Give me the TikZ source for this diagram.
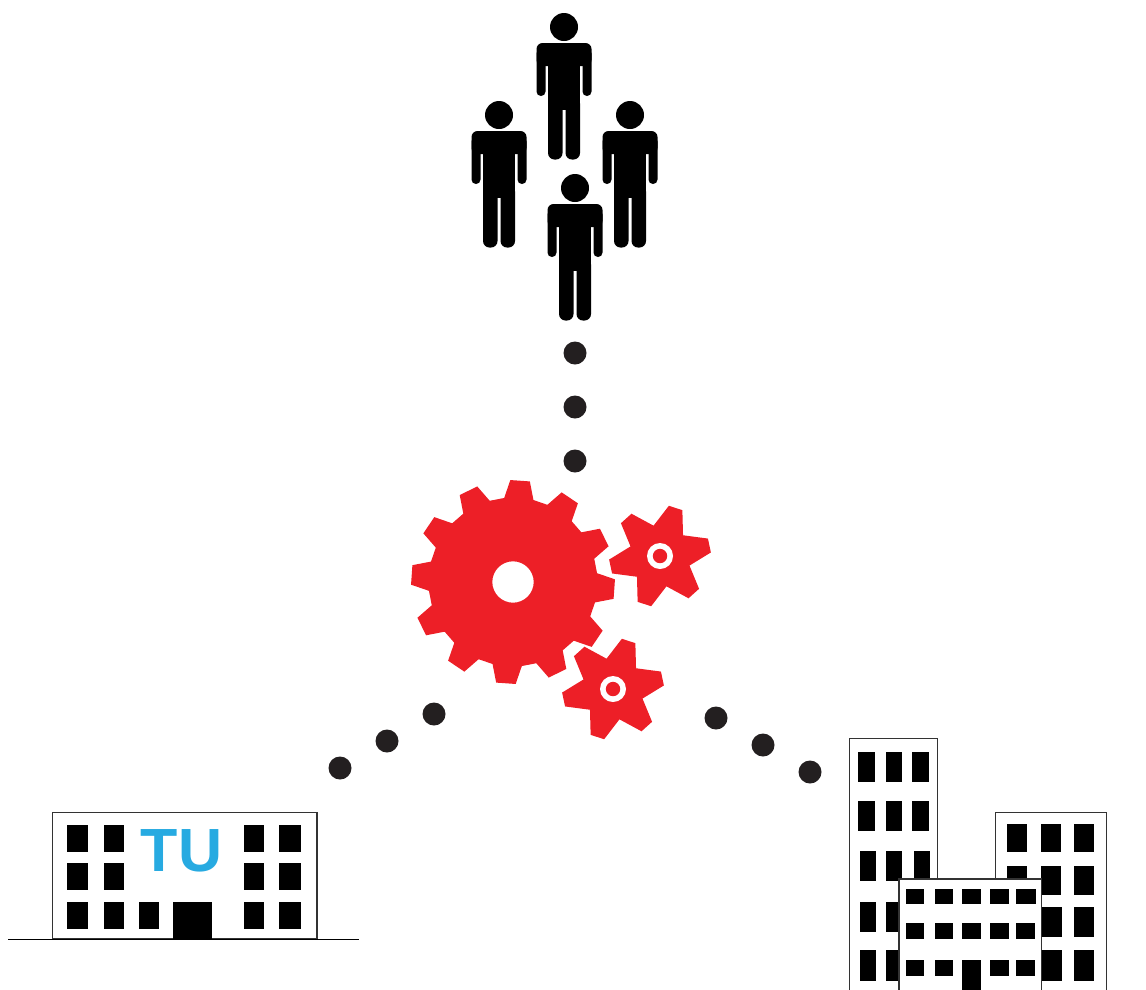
\documentclass[tikz,border=0pt]{standalone}
\usepackage{fontspec}
\setmainfont{Liberation Sans}
\definecolor{cogred}{HTML}{ED1F27}
\definecolor{dotblack}{HTML}{231F20}
\definecolor{tublue}{HTML}{27AAE1}
\newcommand{\windowgrid}[2]{%
  \foreach \xa/\xb in {#1} \foreach \ya/\yb in {#2} \fill[window] (\xa,\ya) rectangle (\xb,\yb);}
\tikzset{
  window/.style={fill=black},
  wall/.style={draw=black!80,fill=white,line width=1.3pt},
  ground/.style={draw=black,line width=1.2pt},
  linkdot/.style={circle,fill=dotblack,inner sep=0pt,minimum size=23pt},
  tulabel/.style={text=tublue,font=\fontsize{61}{61}\selectfont\bfseries,inner sep=0pt,anchor=base},
  person/.pic={
    \fill[black] (0,0) circle (14);
    \fill[black,rounded corners=6pt] (-27.5,16) rectangle (27.5,39);
    \fill[black] (-16,30) rectangle (16,82.5);
    \fill[black,rounded corners=4.4pt] (-27.5,22) rectangle (-18.5,69);
    \fill[black,rounded corners=4.4pt] (18.5,22) rectangle (27.5,69);
    \fill[black,rounded corners=6.5pt] (-16,70) rectangle (-1.5,132.5);
    \fill[black,rounded corners=6.5pt] (1.5,70) rectangle (16,132.5);
  },
  bigcog/.pic={
    \fill[cogred,even odd rule] (-86+10:84.5)
      \foreach \a in {0,30,...,330} {
        -- ({-86-\a+10}:84.5) -- ({-86-\a+5.5}:102) -- ({-86-\a-5.5}:102) -- ({-86-\a-10}:84.5)
      } -- cycle (0,0) circle (20.7);
  },
  smallcog/.pic={
    \fill[cogred] (-72+8:51)
      \foreach \a in {0,60,...,300} {
        -- ({-72-\a+8}:51) -- ({-72-\a-8}:51) -- ({-72-\a-30}:31)
      } -- cycle;
    \fill[white] (0,0) circle (13);
    \fill[cogred] (0,0) circle (7.2);
  },
}
\begin{document}
\begin{tikzpicture}[x=1pt,y=-1pt]
	\useasboundingbox (0,0) rectangle (1146,989);
	% people
	\pic (top) at (564,27) {person};
	\pic (left) at (499,115) {person};
	\pic (right) at (630,115) {person};
	\pic (front) at (575,188) {person};
	% dots
	\node[linkdot] (pa) at (575,353) {};
	\node[linkdot] (pb) at (575,407) {};
	\node[linkdot] (pc) at (575,461) {};
	\node[linkdot] (ua) at (434,714) {};
	\node[linkdot] (ub) at (387,741) {};
	\node[linkdot] (uc) at (340,768) {};
	\node[linkdot] (ca) at (716,718) {};
	\node[linkdot] (cb) at (763,745) {};
	\node[linkdot] (cc) at (810,772) {};
	% gears
	\pic (main) at (513,582) {bigcog};
	\pic (coga) at (660,556) {smallcog};
	\pic (cogb) at (613,689) {smallcog};
	% university
	\draw[wall] (52.7,939) rectangle (317,812.3);
	\windowgrid{67.3/87.7,104.3/124.3,244.3/264.3,279.3/301}{825/852.3,862.7/890,902.3/929.3}
	\fill[window] (139.3,902.3) rectangle (159.3,929.3);
	\fill[window] (173.3,902.3) rectangle (211.7,939);
	\node[tulabel] (tu) at (181.5,871) {TU};
	\draw[ground] (8,939.3) -- (359,939.3);
	% companies
	\draw[wall] (849.3,1000) rectangle (937.7,738.3);
	\windowgrid{858.3/875,885.7/902.3,912/928.7}{752.3/781.7,801/831}
	\windowgrid{859.7/876.3,885.7/902.3,913.7/930.3}{850.7/881,902.3/932.3,950.3/980.7}
	\draw[wall] (995.3,1000) rectangle (1106.3,812.3);
	\windowgrid{1007/1027,1040.7/1060.7,1074.3/1094.3}{823.7/852.3,866/894.7}
	\windowgrid{1040.7/1062,1074.3/1094.3}{906.7/937,950.3/980.7}
	\draw[wall] (899,1000) rectangle (1041.3,879);
	\windowgrid{905.7/924.3,935/953.3,962.3/981,990/1008.7,1016.3/1036}{888.7/904}
	\windowgrid{905.7/924.3,935/953.3,962.3/981,990/1008.7,1016.3/1034.7}{923.3/938.7}
	\windowgrid{905.7/924.3,935/953.3,990/1008.7,1016.3/1034.7}{959.7/976.3}
	\fill[window] (962.3,959.7) rectangle (981,1000);
\end{tikzpicture}
\end{document}
